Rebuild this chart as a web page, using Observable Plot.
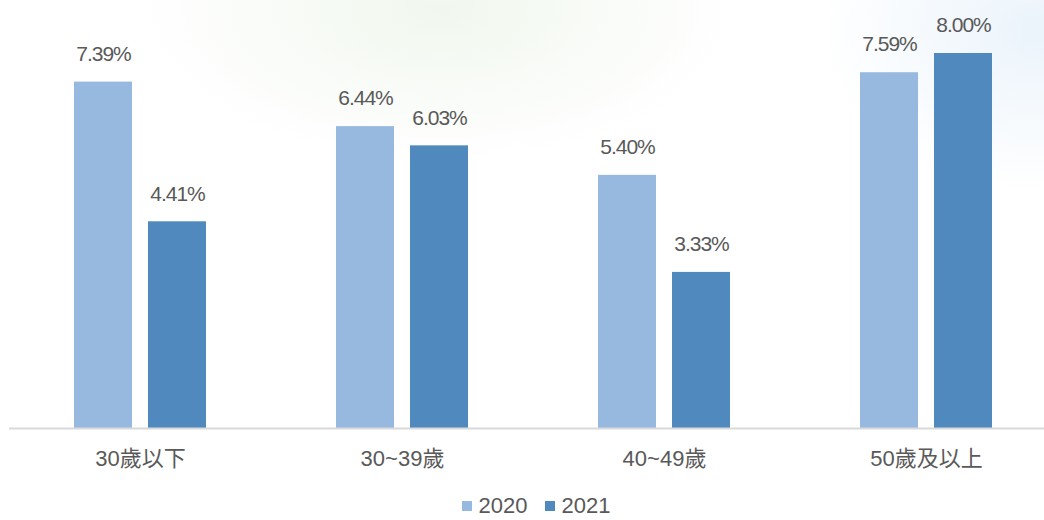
<!DOCTYPE html>
<html>
<head>
<meta charset="utf-8">
<script src="https://cdn.jsdelivr.net/npm/d3@7"></script>
<script src="https://cdn.jsdelivr.net/npm/@observablehq/plot@0.6"></script>
<style>
  html, body { margin: 0; padding: 0; width: 1044px; height: 520px; overflow: hidden; }
  body {
    background:
      radial-gradient(ellipse 300px 150px at 440px 10px, rgba(220,235,212,0.4), rgba(255,255,255,0) 100%),
      radial-gradient(ellipse 220px 160px at 1040px 30px, rgba(218,234,248,0.55), rgba(255,255,255,0) 100%),
      #ffffff;
    font-family: "Liberation Sans", "Noto Sans CJK TC", sans-serif;
  }
  #chart svg { background: transparent !important; display: block; }
  #chart svg g[aria-label="text"] text { letter-spacing: -1px; }
  #legend { height: 24px; line-height: 24px; display: flex; justify-content: center; align-items: center; gap: 17px; font-size: 22px; color: #595959; margin-top: 4px; padding-left: 28px; }
  #legend .item { display: flex; align-items: center; gap: 7px; }
  #legend .sw { width: 10px; height: 10px; display: inline-block; }
</style>
</head>
<body>
<div id="chart"></div>
<div id="legend"></div>
<script>
const categories = ["30歲以下", "30~39歲", "40~49歲", "50歲及以上"];
const years = ["2020", "2021"];
const values2020 = [7.39, 6.44, 5.40, 7.59];
const values2021 = [4.41, 6.03, 3.33, 8.00];
const colors = ["#97b9e0", "#4f89bd"];

const data = [];
categories.forEach((c, i) => {
  data.push({cat: c, year: years[0], value: values2020[i]});
  data.push({cat: c, year: years[1], value: values2021[i]});
});

const chart = Plot.plot({
  width: 1044,
  height: 490,
  marginTop: 53,
  marginBottom: 62,
  marginLeft: 9,
  marginRight: 0,
  style: {background: "transparent", fontFamily: "'Liberation Sans', 'Noto Sans CJK TC', sans-serif"},
  fx: {domain: categories, range: [9, 1057], padding: 0, label: null},
  x: {domain: years, paddingInner: 16 / 74, paddingOuter: 0.878, axis: null},
  y: {domain: [0, 8], axis: null},
  color: {domain: years, range: colors},
  marks: [
    Plot.barY(data, {fx: "cat", x: "year", y: "value", fill: "year"}),
    Plot.ruleY([0], {stroke: "#d9d9d9", strokeWidth: 2}),
    Plot.text(data, {fx: "cat", x: "year", y: "value", text: d => d.value.toFixed(2) + "%", dy: -28, fontSize: 21, fill: "#595959"}),
    Plot.axisFx({anchor: "bottom", tickSize: 0, tickPadding: 22, fontSize: 22, color: "#595959", label: null})
  ]
});
document.getElementById("chart").appendChild(chart);

const legend = document.getElementById("legend");
years.forEach((y, i) => {
  const item = document.createElement("span");
  item.className = "item";
  const sw = document.createElement("span");
  sw.className = "sw";
  sw.style.background = colors[i];
  item.appendChild(sw);
  item.appendChild(document.createTextNode(y));
  legend.appendChild(item);
});
</script>
</body>
</html>
